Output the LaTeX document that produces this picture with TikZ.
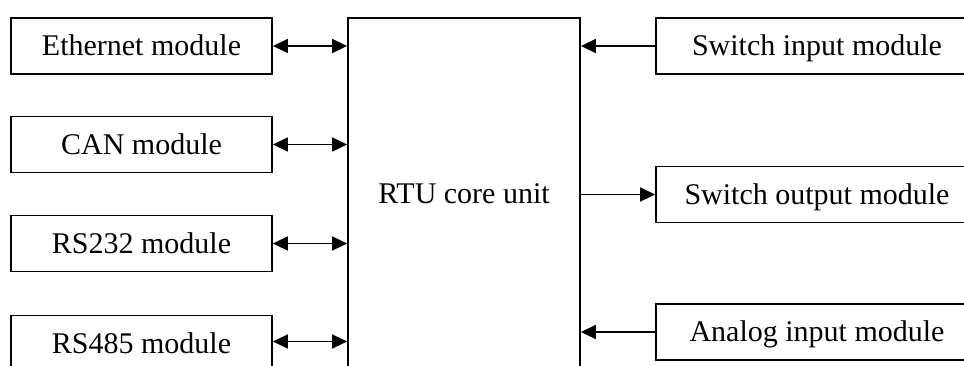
\documentclass[tikz,border=0pt]{standalone}
\usepackage{fontspec}
\setmainfont{Liberation Serif}
\usetikzlibrary{arrows.meta}
\begin{document}
\begin{tikzpicture}[x=1pt,y=-1pt,
  box/.style={draw,line width=1.8pt,rectangle,inner sep=0pt,minimum height=56pt,
    text height=23pt,text depth=4pt,
    font=\fontsize{30}{32}\selectfont},
  lbox/.style={box,minimum width=261pt},
  rbox/.style={box,minimum width=322pt},
  conn/.style={line width=1.7pt,-{Triangle[length=15pt,width=14pt]}},
  biconn/.style={line width=1.7pt,{Triangle[length=15pt,width=14pt]}-{Triangle[length=15pt,width=14pt]}}]
\useasboundingbox (0,0) rectangle (964,365);
\clip (0,0) rectangle (964,365);
\node[box,minimum width=232pt,minimum height=352pt] (core) at (464,194) {RTU core unit};
\node[lbox] (eth) at (141.5,46) {Ethernet module};
\node[lbox] (can) at (141.5,144.5) {CAN module};
\node[lbox] (rs232) at (141.5,243.5) {RS232 module};
\node[lbox] (rs485) at (141.5,343.5) {RS485 module};
\node[rbox] (sin) at (817,46) {Switch input module};
\node[rbox] (sout) at (817,194.5) {Switch output module};
\node[rbox] (ain) at (817,332) {Analog input module};
\draw[biconn] (eth.east) -- (eth.east -| core.west);
\draw[biconn] (can.east) -- (can.east -| core.west);
\draw[biconn] (rs232.east) -- (rs232.east -| core.west);
\draw[biconn] ([yshift=2pt]rs485.east) -- ([yshift=2pt]rs485.east -| core.west);
\draw[conn] (sin.west) -- (sin.west -| core.east);
\draw[conn] (sout.west -| core.east) -- (sout.west);
\draw[conn] (ain.west) -- (ain.west -| core.east);
\end{tikzpicture}
\end{document}
